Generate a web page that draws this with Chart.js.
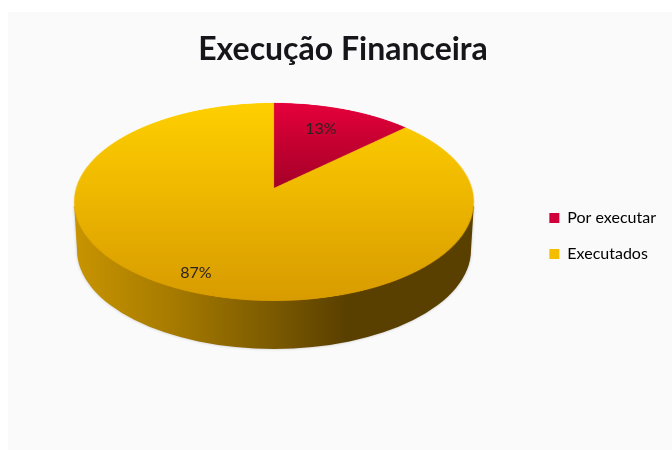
<!DOCTYPE html>
<html>
<head>
<meta charset="utf-8">
<title>Execução Financeira</title>
<script src="https://cdn.jsdelivr.net/npm/chart.js@4"></script>
<style>
  html, body { margin: 0; padding: 0; background: #fff; }
  canvas { display: block; }
</style>
</head>
<body>
<canvas id="pie-chart" width="672" height="450"></canvas>
<script>
const chartTitle = 'Execução Financeira'
const categories = ['Por executar', 'Executados']
const percentages = [13, 87]
const legendColors = ['#d2003a', '#f4bd00']

// where the percent text sits
const labelSpots = [[321, 129], [196, 273]]

// perspective of the tilted disc: screen y = a*v/(1+c*v), half width = k/(1+c*v)
const tilt = { cx: 274, cy: 188, a: 97, c: -0.1414, k: 198, top: 103, bottom: 301 }
// side wall, lower rim is the top rim moved down
const rim = { cx: 274, cy: 202, rx: 200, ry: 99, lowCy: 250, lowRx: 197 }

const scale = 3
const offCanvas = document.createElement('canvas')
offCanvas.width = 672 * scale
offCanvas.height = 450 * scale
const offCtx = offCanvas.getContext('2d')
offCtx.scale(scale, scale)

function sliceFill(context) {
  const area = context.chart.chartArea
  if (!area) return legendColors[context.dataIndex]
  const midY = (area.top + area.bottom) / 2
  const radius = Math.min(area.right - area.left, area.bottom - area.top) / 2
  if (context.dataIndex === 0) {
    const red = offCtx.createLinearGradient(0, midY - radius, 0, midY)
    red.addColorStop(0, '#e6003c')
    red.addColorStop(1, '#a60028')
    return red
  }
  const gold = offCtx.createLinearGradient(0, midY - radius, 0, midY + radius)
  gold.addColorStop(0, '#ffd000')
  gold.addColorStop(0.5, '#f0ba00')
  gold.addColorStop(1, '#d89c00')
  return gold
}

function drawWall(ctx) {
  const wall = ctx.createLinearGradient(rim.cx - rim.rx, 0, rim.cx + rim.rx, 0)
  wall.addColorStop(0, '#c89400')
  wall.addColorStop(0.25, '#a67a00')
  wall.addColorStop(0.45, '#836000')
  wall.addColorStop(0.68, '#5a4000')
  wall.addColorStop(1, '#5a4000')
  ctx.save()
  // soft edge only below the widest part of the disc
  ctx.beginPath()
  ctx.rect(0, rim.cy + 4, 672, 446)
  ctx.clip()
  ctx.shadowColor = 'rgba(90, 90, 90, 0.35)'
  ctx.shadowBlur = 3
  ctx.fillStyle = wall
  ctx.beginPath()
  ctx.ellipse(rim.cx, rim.cy, rim.rx, rim.ry, 0, Math.PI, 0, false)
  ctx.lineTo(rim.cx + rim.lowRx, rim.lowCy)
  ctx.ellipse(rim.cx, rim.lowCy, rim.lowRx, rim.ry, 0, 0, Math.PI, false)
  ctx.closePath()
  ctx.fill()
  ctx.restore()
}

// the library's arcs are drawn flat off screen, then copied row by row onto the tilted disc
function tiltPie(ctx, arc) {
  const R = arc.outerRadius * 1.01
  ctx.save()
  ctx.imageSmoothingEnabled = true
  ctx.imageSmoothingQuality = 'high'
  for (let y = tilt.top - 1; y <= tilt.bottom + 1; y++) {
    const y0 = y - tilt.cy
    const y1 = y0 + 1
    const v0 = y0 / (tilt.a - tilt.c * y0)
    const v1 = y1 / (tilt.a - tilt.c * y1)
    const vMid = (v0 + v1) / 2
    const half = (tilt.k * 1.01) / (1 + tilt.c * vMid)
    const sy = arc.y + v0 * arc.outerRadius
    const sh = (v1 - v0) * arc.outerRadius
    ctx.drawImage(offCanvas, (arc.x - R) * scale, sy * scale, 2 * R * scale, sh * scale,
      tilt.cx - half, y, 2 * half, 1)
  }
  ctx.restore()
}

const tiltedPie = {
  id: 'tiltedPie',
  beforeDraw(chart) {
    const ctx = chart.ctx
    ctx.save()
    ctx.fillStyle = '#fff'
    ctx.fillRect(0, 0, chart.width, chart.height)
    ctx.fillStyle = '#fafafa'
    ctx.fillRect(8, 12, chart.width - 8, chart.height - 12)
    ctx.restore()
  },
  beforeDatasetDraw(chart, args) {
    const ctx = chart.ctx
    drawWall(ctx)
    offCtx.clearRect(0, 0, 672, 450)
    args.meta.data.forEach(function (arc) {
      arc.draw(offCtx)
    })
    tiltPie(ctx, args.meta.data[0])
    ctx.save()
    ctx.fillStyle = '#2b2320'
    ctx.font = '16px Lato'
    ctx.textAlign = 'center'
    ctx.textBaseline = 'middle'
    percentages.forEach(function (value, i) {
      ctx.fillText(value + '%', labelSpots[i][0], labelSpots[i][1])
    })
    ctx.restore()
    return false
  }
}

new Chart(document.getElementById('pie-chart'), {
  type: 'pie',
  data: {
    labels: categories,
    datasets: [{
      data: percentages,
      backgroundColor: sliceFill,
      borderWidth: 0
    }]
  },
  options: {
    responsive: false,
    animation: false,
    events: [],
    devicePixelRatio: 1,
    layout: { padding: { left: 20, right: 6, top: 22, bottom: 0 } },
    plugins: {
      tooltip: { enabled: false },
      title: {
        display: true,
        text: chartTitle,
        color: '#15151a',
        font: { family: 'Lato', size: 32, weight: '700' },
        padding: { top: 8, bottom: 10 }
      },
      legend: {
        position: 'right',
        labels: {
          boxWidth: 10,
          boxHeight: 10,
          padding: 20,
          color: '#3a3a40',
          font: { family: 'Lato', size: 16 },
          generateLabels: function () {
            return categories.map(function (name, i) {
              return { text: name, fillStyle: legendColors[i], strokeStyle: legendColors[i], lineWidth: 0, index: i }
            })
          }
        }
      }
    }
  },
  plugins: [tiltedPie]
})
</script>
</body>
</html>
